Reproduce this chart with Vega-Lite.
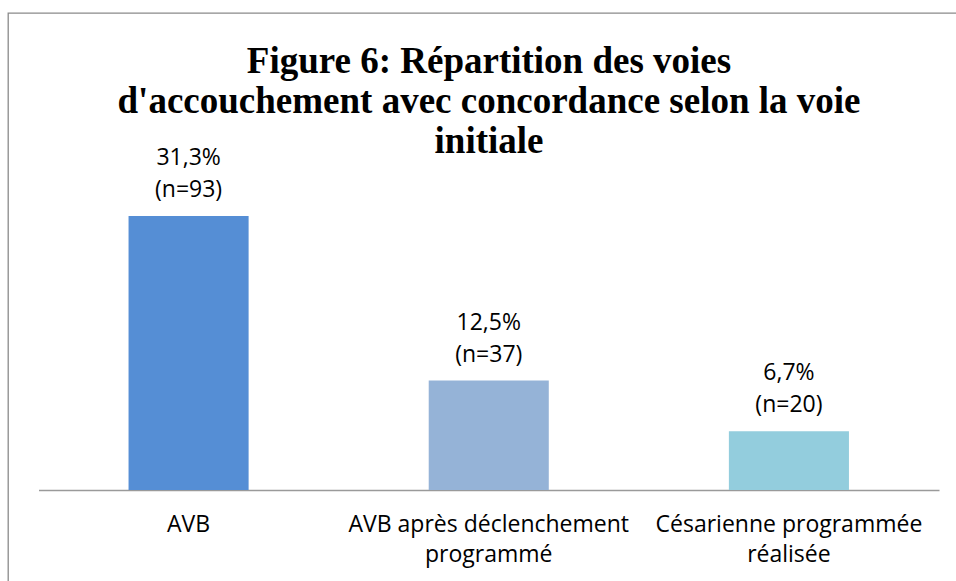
{
  "$schema": "https://vega.github.io/schema/vega-lite/v6.json",
  "autosize": {"type": "none"},
  "padding": {"left": 8, "top": 13, "right": -14, "bottom": -12},
  "width": 962,
  "height": 580,
  "background": "white",
  "config": {
    "view": {"stroke": "#8a8a8a", "strokeWidth": 1.3},
    "font": "Open Sans"
  },
  "title": {
    "text": ["Figure 6: Répartition des voies", "d'accouchement avec concordance selon la voie", "initiale"],
    "font": "Liberation Serif",
    "fontWeight": "bold",
    "fontSize": 37,
    "lineHeight": 40,
    "color": "#000000",
    "anchor": "middle",
    "baseline": "top",
    "offset": -148
  },
  "data": {
    "values": [
      {"voie": "AVB", "pct": 31.3, "label": "31,3%\n(n=93)"},
      {"voie": "AVB après déclenchement programmé", "pct": 12.5, "label": "12,5%\n(n=37)"},
      {"voie": "Césarienne programmée réalisée", "pct": 6.7, "label": "6,7%\n(n=20)"}
    ]
  },
  "encoding": {
    "x": {
      "field": "voie",
      "type": "nominal",
      "sort": null,
      "scale": {"range": [30.5, 931], "paddingInner": 0.6, "paddingOuter": 0.3},
      "axis": {
        "title": null,
        "orient": "bottom",
        "offset": -103,
        "domainColor": "#9a9a9a",
        "domainWidth": 1.5,
        "ticks": false,
        "tickSize": 0,
        "labelAngle": 0,
        "labelFont": "Open Sans",
        "labelFontSize": 23,
        "labelColor": "#000000",
        "labelBaseline": "alphabetic",
        "labelPadding": 41,
        "labelLineHeight": 30,
        "labelLimit": 400,
        "labelExpr": "indexof(datum.label, ' ') < 0 ? datum.label : [substring(datum.label, 0, lastindexof(datum.label, ' ')), substring(datum.label, lastindexof(datum.label, ' ') + 1)]"
      }
    },
    "y": {
      "field": "pct",
      "type": "quantitative",
      "scale": {"domain": [0, 31.3], "range": [477, 203], "nice": false},
      "axis": null
    }
  },
  "layer": [
    {
      "mark": {"type": "bar"},
      "encoding": {
        "color": {
          "field": "voie",
          "type": "nominal",
          "scale": {
            "domain": ["AVB", "AVB après déclenchement programmé", "Césarienne programmée réalisée"],
            "range": ["#558ed5", "#95b3d7", "#93cddd"]
          },
          "legend": null
        }
      }
    },
    {
      "mark": {
        "type": "text",
        "baseline": "alphabetic",
        "align": "center",
        "lineBreak": "\n",
        "lineHeight": 32,
        "dy": -51,
        "fontSize": 23,
        "font": "Open Sans",
        "color": "#000000"
      },
      "encoding": {"text": {"field": "label"}}
    }
  ]
}
